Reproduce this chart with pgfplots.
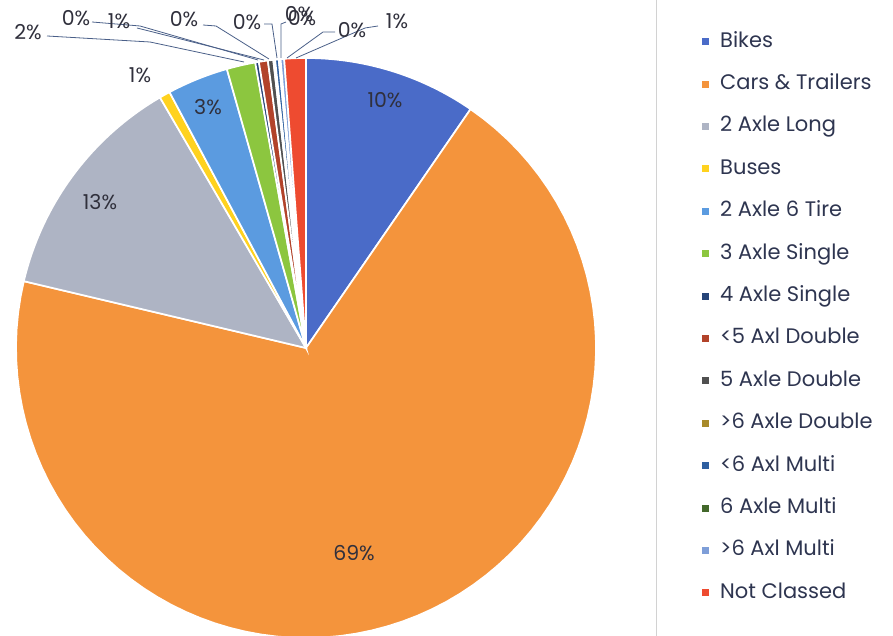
\documentclass[border=0pt]{standalone}
\usepackage{pgfplots}
\pgfplotsset{compat=1.18}
\usepackage{pgfplotstable}
\usepackage{fontspec}
\setmainfont{Poppins}

\definecolor{slice0}{HTML}{4A6BC8}
\definecolor{slice1}{HTML}{F4943C}
\definecolor{slice2}{HTML}{AEB4C4}
\definecolor{slice3}{HTML}{FFD21F}
\definecolor{slice4}{HTML}{5B9BE0}
\definecolor{slice5}{HTML}{8CC63F}
\definecolor{slice6}{HTML}{264478}
\definecolor{slice7}{HTML}{B2432A}
\definecolor{slice8}{HTML}{505050}
\definecolor{slice9}{HTML}{A88A2A}
\definecolor{slice10}{HTML}{2E5FA0}
\definecolor{slice11}{HTML}{43682B}
\definecolor{slice12}{HTML}{7E9ED8}
\definecolor{slice13}{HTML}{EE4B30}
\definecolor{labelcol}{HTML}{30303C}
\definecolor{legendcol}{HTML}{2E3550}
\definecolor{leadercol}{HTML}{4A5F88}

% share of each vehicle class (percent), clockwise from 12 o'clock
\pgfplotstableread{
value
9.6
69.1
12.9
0.6
3.4
1.6
0.2
0.5
0.3
0.1
0.2
0.1
0.2
1.2
}\pietable

\newcommand{\lbl}{\fontsize{20.5bp}{24bp}\selectfont}
\newcommand{\leg}{\fontsize{21bp}{25bp}\selectfont}

\begin{document}
\begin{tikzpicture}
\begin{axis}[
  width=893bp, height=636bp, scale only axis,
  xmin=0, xmax=893, ymin=0, ymax=636,
  hide axis, clip=true,
  legend entries={Bikes, Cars \& Trailers, 2 Axle Long, Buses, 2 Axle 6 Tire,
    3 Axle Single, 4 Axle Single, <5 Axl Double, 5 Axle Double, >6 Axle Double,
    <6 Axl Multi, 6 Axle Multi, >6 Axl Multi, Not Classed},
  legend cell align=left,
  legend image code/.code={\fill[#1,draw=none] (0bp,-3.5bp) rectangle (7bp,3.5bp);},
  legend style={at={(699/893,1-30/636)}, anchor=north west, draw=none, fill=none,
    font=\leg, text=legendcol, row sep=23.4bp, column sep=0pt,
    nodes={inner sep=0pt, text height=15bp, text depth=4bp},
    /tikz/every odd column/.append style={column sep=11bp}},
]
\def\cum{0}
\pgfplotsforeachungrouped \i in {0,...,13}{
  \pgfplotstablegetelem{\i}{value}\of\pietable
  \pgfmathsetmacro\a{90-3.6*\cum}
  \pgfmathsetmacro\cum{\cum+\pgfplotsretval}
  \pgfmathsetmacro\b{90-3.6*\cum}
  \edef\cmd{\noexpand\addplot[fill=slice\i, draw=white, line width=1.7bp,
     domain=\b:\a, samples=80]
     ({306+290*cos(x)},{288+290*sin(x)}) -- (axis cs:306,288) -- cycle;}
  \cmd
}

% inside labels
\node[font=\lbl, text=labelcol] at (axis cs:385,536) {10\%};
\node[font=\lbl, text=labelcol] at (axis cs:354,83) {69\%};
\node[font=\lbl, text=labelcol] at (axis cs:100,434) {13\%};
\node[font=\lbl, text=labelcol] at (axis cs:208,529) {3\%};
\node[font=\lbl, text=labelcol] at (axis cs:140,561) {1\%};

% leader lines
\begin{scope}[leadercol, line width=0.8bp]
\draw (axis cs:47,600) -- (axis cs:150,594) -- (axis cs:244,574);
\draw (axis cs:92,614) -- (axis cs:140,610) -- (axis cs:258,576);
\draw (axis cs:137,608) -- (axis cs:264,576);
\draw (axis cs:203,611) -- (axis cs:216,610) -- (axis cs:269,577);
\draw (axis cs:264,612) -- (axis cs:272,612) -- (axis cs:277,578);
\draw (axis cs:286,614) -- (axis cs:281,612) -- (axis cs:281,578);
\draw (axis cs:335,604) -- (axis cs:323,604) -- (axis cs:287,578);
\draw (axis cs:378,610) -- (axis cs:365,608) -- (axis cs:296,578);
\end{scope}

% outside labels
\node[font=\lbl, text=labelcol] at (axis cs:28,604) {2\%};
\node[font=\lbl, text=labelcol] at (axis cs:76,618) {0\%};
\node[font=\lbl, text=labelcol] at (axis cs:119,615) {1\%};
\node[font=\lbl, text=labelcol] at (axis cs:184,617) {0\%};
\node[font=\lbl, text=labelcol] at (axis cs:247,614) {0\%};
\node[font=\lbl, text=labelcol] at (axis cs:299,622) {0\%};
\node[font=\lbl, text=labelcol] at (axis cs:302,618) {0\%};
\node[font=\lbl, text=labelcol] at (axis cs:352,606) {0\%};
\node[font=\lbl, text=labelcol] at (axis cs:397,615) {1\%};

\draw[gray!35, line width=1bp] (axis cs:656,0) -- (axis cs:656,636);
\end{axis}
\pgfresetboundingbox
\useasboundingbox (0,0) rectangle (893bp,636bp);
\end{tikzpicture}
\end{document}
